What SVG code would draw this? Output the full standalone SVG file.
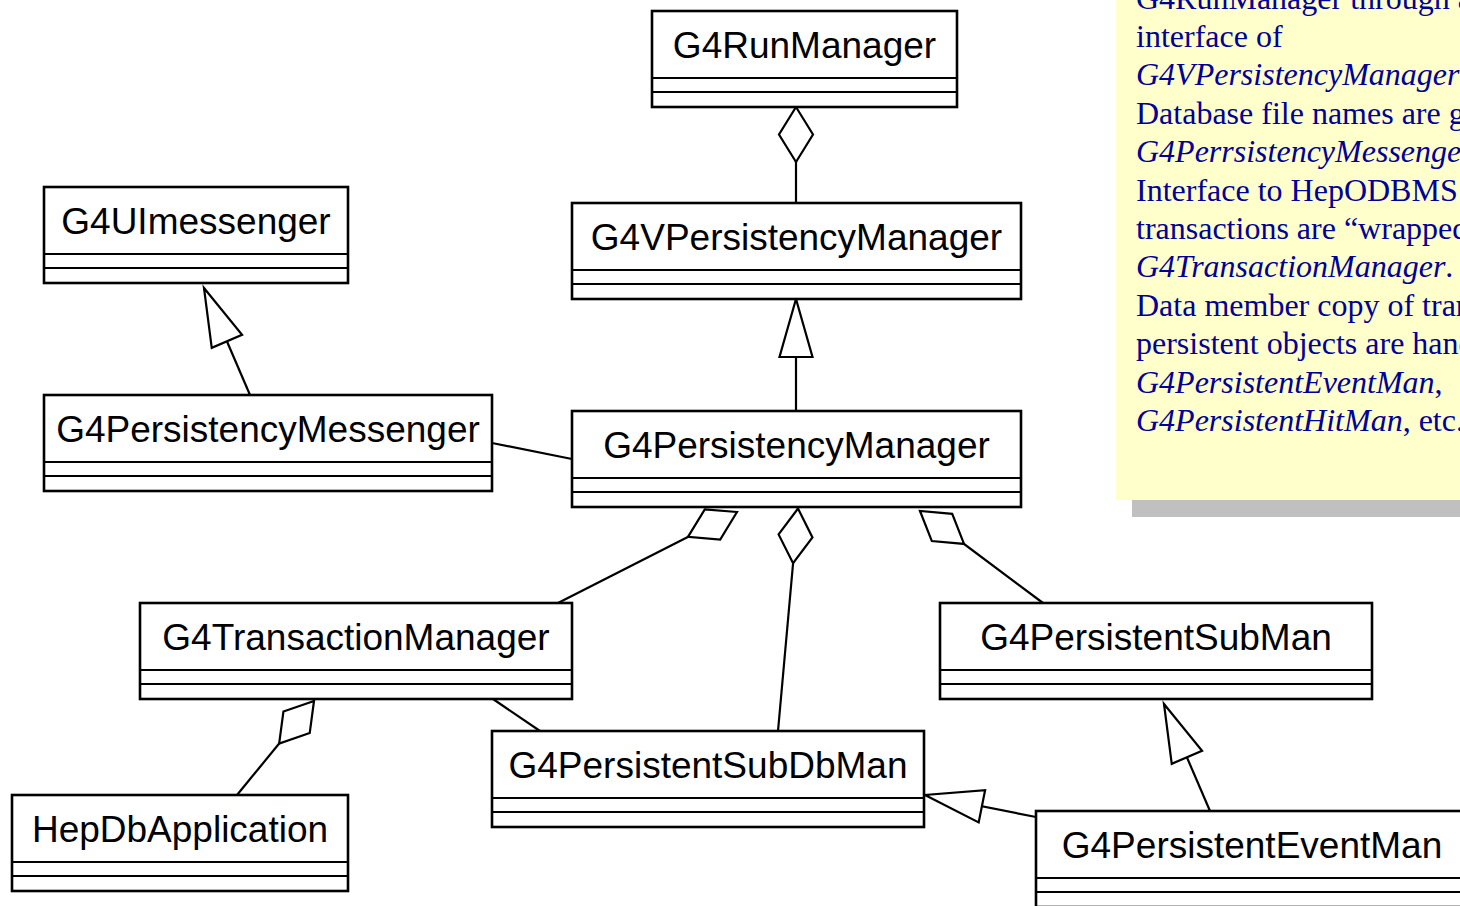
<svg xmlns="http://www.w3.org/2000/svg" width="1460" height="906" viewBox="0 0 1460 906">
  <style>
    .box rect { fill: #ffffff; stroke: #000000; stroke-width: 2.6; }
    .box line { stroke: #000000; stroke-width: 2; }
    .box text { font-family: "Liberation Sans", Arial, sans-serif; font-size: 37px; fill: #000000; text-anchor: middle; }
    .conn { fill: none; stroke: #000000; stroke-width: 2.2; }
    .note-text { font-family: "Liberation Serif", "Times New Roman", serif; font-size: 32px; fill: #000099; }
    .it { font-style: italic; }
  </style>
  <defs>
    <!-- hollow triangle for generalization -->
    <marker id="gen" markerUnits="userSpaceOnUse" viewBox="-62 -20 64 40" markerWidth="64" markerHeight="40" refX="0" refY="0" orient="auto" overflow="visible">
      <path d="M0,0 L-58,-16.5 L-58,16.5 Z" fill="#ffffff" stroke="#000000" stroke-width="2.2" stroke-linejoin="miter"/>
    </marker>
    <!-- hollow diamond for aggregation -->
    <marker id="agg" markerUnits="userSpaceOnUse" viewBox="-58 -20 60 40" markerWidth="60" markerHeight="40" refX="0" refY="0" orient="auto" overflow="visible">
      <path d="M0,0 L-27.5,-17 L-55,0 L-27.5,17 Z" fill="#ffffff" stroke="#000000" stroke-width="2.2" stroke-linejoin="miter"/>
    </marker>
  </defs>

  <rect width="1460" height="906" fill="#ffffff"/>

  <!-- explanatory note with drop shadow -->
  <g id="note">
    <rect x="1132" y="16" width="340" height="501" fill="#c0c0c0"/>
    <rect x="1116" y="-10" width="350" height="510" fill="#ffffcc"/>
    <text class="note-text" x="1136">
      <tspan x="1136" y="8.6">G4RunManager through a</tspan>
      <tspan x="1136" y="47">interface of</tspan>
      <tspan x="1136" y="85.4" class="it">G4VPersistencyManager</tspan>
      <tspan x="1136" y="123.8">Database file names are g</tspan>
      <tspan x="1136" y="162.2" class="it">G4PerrsistencyMessenge</tspan>
      <tspan x="1136" y="200.6">Interface to HepODBMS</tspan>
      <tspan x="1136" y="239">transactions are “wrapped</tspan>
      <tspan x="1136" y="277.4" class="it">G4TransactionManager</tspan><tspan>.</tspan>
      <tspan x="1136" y="315.8">Data member copy of tran</tspan>
      <tspan x="1136" y="354.2">persistent objects are hand</tspan>
      <tspan x="1136" y="392.6" class="it">G4PersistentEventMan</tspan><tspan>,</tspan>
      <tspan x="1136" y="431" class="it">G4PersistentHitMan</tspan><tspan>, etc.</tspan>
    </text>
  </g>

  <!-- relationships -->
  <g id="connectors">
    <path class="conn" d="M796,203 L796,107" marker-end="url(#agg)"/>
    <path class="conn" d="M796,411 L796,299" marker-end="url(#gen)"/>
    <path class="conn" d="M250,395 L204,288" marker-end="url(#gen)"/>
    <path class="conn" d="M492,443 L572,459"/>
    <path class="conn" d="M558,603 L737,512" marker-end="url(#agg)"/>
    <path class="conn" d="M778,731 L798,508.5" marker-end="url(#agg)"/>
    <path class="conn" d="M1043,603 L920,511" marker-end="url(#agg)"/>
    <path class="conn" d="M237,795 L314,701" marker-end="url(#agg)"/>
    <path class="conn" d="M493,699 L540,731"/>
    <path class="conn" d="M1036,817 L925,795" marker-end="url(#gen)"/>
    <path class="conn" d="M1210,811 L1164,704" marker-end="url(#gen)"/>
  </g>

  <!-- classes -->
  <g id="G4RunManager" class="box">
    <rect x="652" y="11" width="305" height="96"/>
    <line x1="652" y1="78" x2="957" y2="78"/>
    <line x1="652" y1="92" x2="957" y2="92"/>
    <text x="804.5" y="58">G4RunManager</text>
  </g>
  <g id="G4VPersistencyManager" class="box">
    <rect x="572" y="203" width="449" height="96"/>
    <line x1="572" y1="270" x2="1021" y2="270"/>
    <line x1="572" y1="284" x2="1021" y2="284"/>
    <text x="796.5" y="250">G4VPersistencyManager</text>
  </g>
  <g id="G4UImessenger" class="box">
    <rect x="44" y="187" width="304" height="96"/>
    <line x1="44" y1="254" x2="348" y2="254"/>
    <line x1="44" y1="268" x2="348" y2="268"/>
    <text x="196" y="234">G4UImessenger</text>
  </g>
  <g id="G4PersistencyMessenger" class="box">
    <rect x="44" y="395" width="448" height="96"/>
    <line x1="44" y1="462" x2="492" y2="462"/>
    <line x1="44" y1="476" x2="492" y2="476"/>
    <text x="268" y="442">G4PersistencyMessenger</text>
  </g>
  <g id="G4PersistencyManager" class="box">
    <rect x="572" y="411" width="449" height="96"/>
    <line x1="572" y1="478" x2="1021" y2="478"/>
    <line x1="572" y1="492" x2="1021" y2="492"/>
    <text x="796.5" y="458">G4PersistencyManager</text>
  </g>
  <g id="G4TransactionManager" class="box">
    <rect x="140" y="603" width="432" height="96"/>
    <line x1="140" y1="670" x2="572" y2="670"/>
    <line x1="140" y1="684" x2="572" y2="684"/>
    <text x="356" y="650">G4TransactionManager</text>
  </g>
  <g id="G4PersistentSubMan" class="box">
    <rect x="940" y="603" width="432" height="96"/>
    <line x1="940" y1="670" x2="1372" y2="670"/>
    <line x1="940" y1="684" x2="1372" y2="684"/>
    <text x="1156" y="650">G4PersistentSubMan</text>
  </g>
  <g id="G4PersistentSubDbMan" class="box">
    <rect x="492" y="731" width="432" height="96"/>
    <line x1="492" y1="798" x2="924" y2="798"/>
    <line x1="492" y1="812" x2="924" y2="812"/>
    <text x="708" y="778">G4PersistentSubDbMan</text>
  </g>
  <g id="HepDbApplication" class="box">
    <rect x="12" y="795" width="336" height="96"/>
    <line x1="12" y1="862" x2="348" y2="862"/>
    <line x1="12" y1="876" x2="348" y2="876"/>
    <text x="180" y="842">HepDbApplication</text>
  </g>
  <g id="G4PersistentEventMan" class="box">
    <rect x="1036" y="811" width="432" height="96"/>
    <line x1="1036" y1="878" x2="1468" y2="878"/>
    <line x1="1036" y1="892" x2="1468" y2="892"/>
    <text x="1252" y="858">G4PersistentEventMan</text>
  </g>
</svg>
